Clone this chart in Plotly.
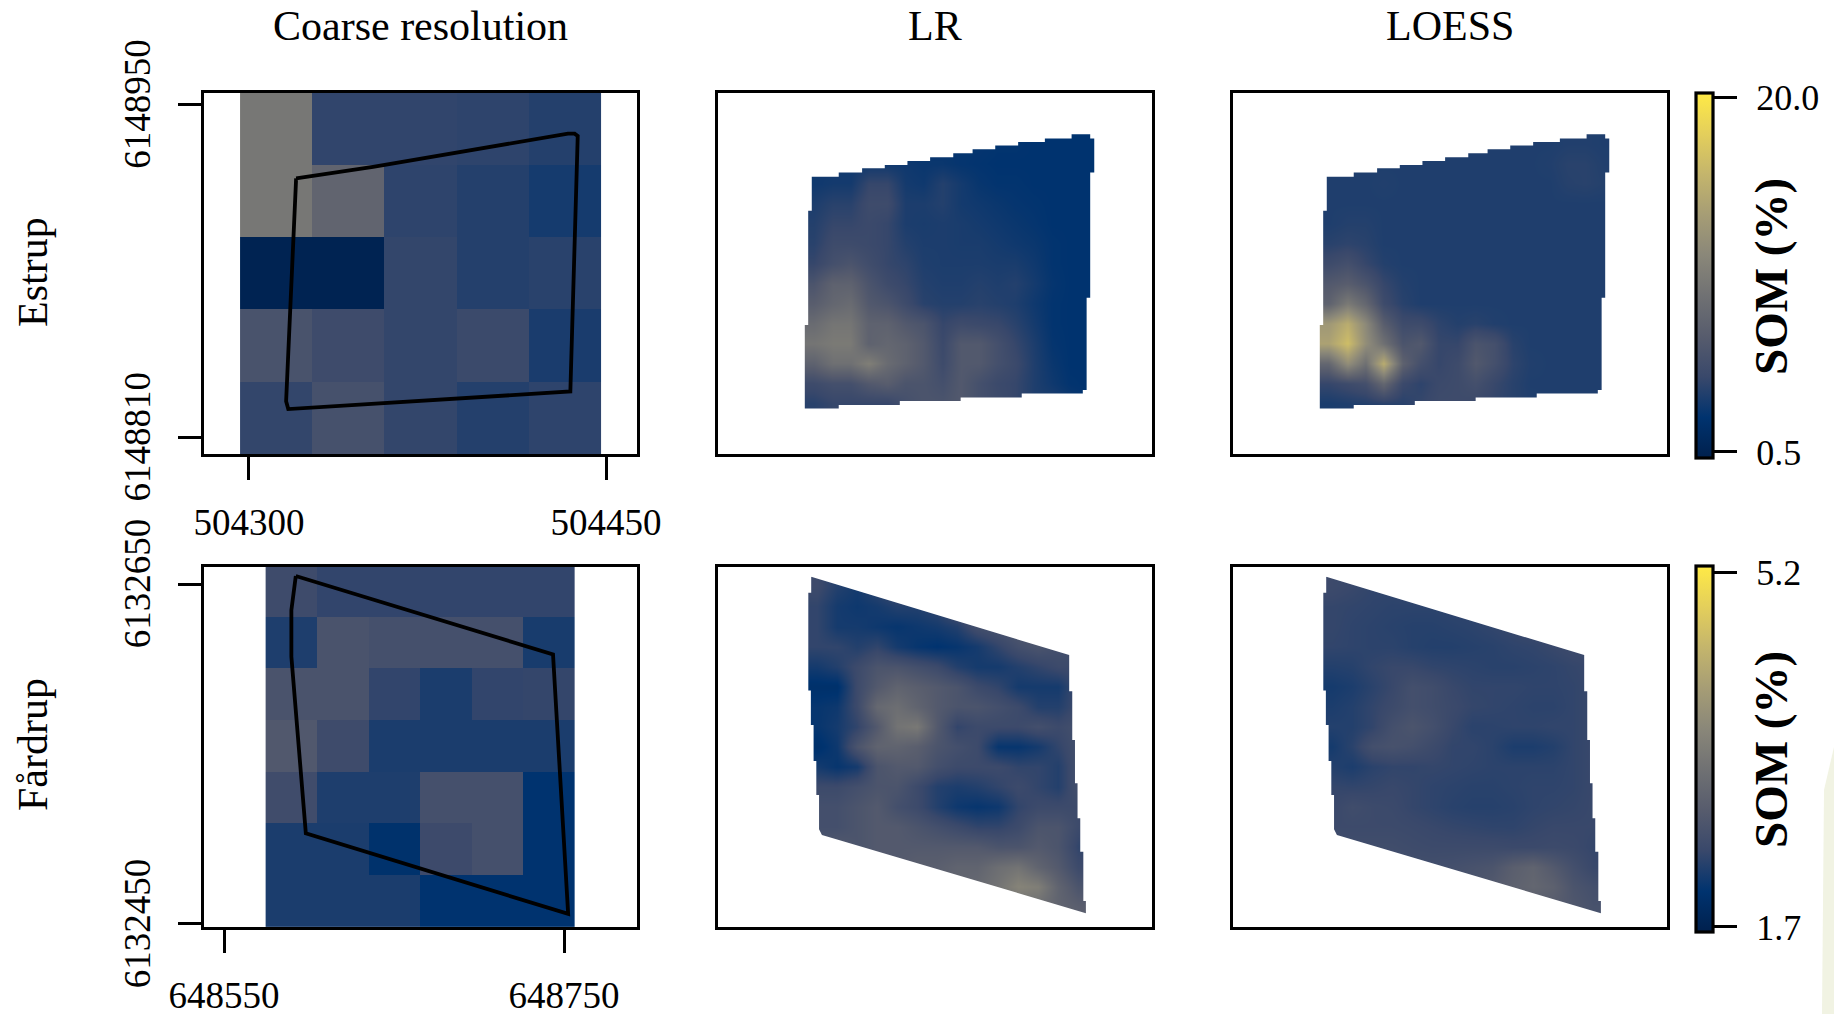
import plotly.graph_objects as go

W, H = 1834, 1014

# ---------- colours and labels
cividis = ["#00204D", "#00336F", "#39486B", "#575C6D", "#707173",
           "#8A8779", "#A69D75", "#C4B56C", "#E4CF5B", "#FFEA46"]
col_titles = ["Coarse resolution", "LR", "LOESS"]
row_titles = ["Estrup", "Fårdrup"]
bar_title = "SOM (%)"
est_limits = [0.17, 20.22]
far_limits = [1.65, 5.26]
est_bar_ticks = [0.5, 20.0]
est_bar_text = ["0.5", "20.0"]
far_bar_ticks = [1.7, 5.2]
far_bar_text = ["1.7", "5.2"]

# ---------- Estrup axes
est_xticks = [504300, 504450]
est_yticks = [6148810, 6148950]
est_xrange = [504281.1, 504463.0]
est_yrange = [6148803.0, 6148954.9]
# ---------- Fardrup axes
far_xticks = [648550, 648750]
far_yticks = [6132450, 6132650]
far_xrange = [648538.2, 648792.9]
far_yrange = [6132448.2, 6132660.0]

# ---------- Estrup coarse grid (top row first)
est_coarse_x = [504311.4, 504341.7, 504372.1, 504402.4, 504432.7]
est_coarse_y = [6148940.0, 6148909.6, 6148879.1, 6148848.6, 6148818.1]
est_coarse = [
    [9.7, 4.3, 4.3, 4.2, 3.8],
    [9.7, 7.7, 4.2, 3.8, 3.2],
    [0.5, 0.5, 4.4, 3.8, 4.0],
    [5.8, 5.0, 4.4, 4.8, 3.4],
    [4.4, 5.6, 4.4, 3.8, 4.2],
]
# ---------- Fardrup coarse grid (top row first)
far_coarse_x = [648589.6, 648619.9, 648650.3, 648680.6, 648711.0, 648741.3]
far_coarse_y = [6132646.0, 6132615.5, 6132585.1, 6132554.7, 6132524.3, 6132493.8, 6132463.4]
far_coarse = [
    [2.52, 2.40, 2.40, 2.40, 2.40, 2.40],
    [2.26, 2.68, 2.61, 2.61, 2.61, 2.22],
    [2.68, 2.68, 2.40, 2.24, 2.40, 2.42],
    [2.77, 2.52, 2.24, 2.24, 2.24, 2.24],
    [2.54, 2.26, 2.26, 2.61, 2.61, 2.05],
    [2.24, 2.24, 2.02, 2.50, 2.61, 2.05],
    [2.24, 2.24, 2.24, 2.05, 2.05, 2.05],
]

# ---------- Field polygons (coarse panels)
est_poly_x = [504319.8, 504315.6, 504316.5, 504435.0, 504438.1, 504436.8, 504434.0, 504352.1, 504319.8]
est_poly_y = [6148919.0, 6148825.2, 6148821.9, 6148829.3, 6148936.8, 6148937.8, 6148937.8, 6148923.8, 6148919.0]
far_poly_x = [648592.2, 648589.6, 648589.6, 648598.1, 648752.4, 648743.5, 648592.2]
far_poly_y = [6132654.7, 6132634.7, 6132607.2, 6132503.3, 6132455.9, 6132608.6, 6132654.7]

# ---------- Fine raster footprints (clockwise, from top-left)
est_edge_x = [504320.4, 504331.7, 504331.7, 504341.5, 504341.5, 504351.0, 504351.0, 504360.5, 504360.5,
              504370.0, 504370.0, 504379.7, 504379.7, 504387.8, 504387.8, 504397.3, 504397.3, 504406.9,
              504406.9, 504418.1, 504418.1, 504429.3, 504429.3, 504437.1, 504437.1, 504438.8, 504438.8,
              504437.1, 504437.1, 504435.6, 504435.6, 504434.0, 504434.0, 504408.4, 504408.4, 504382.8,
              504382.8, 504357.3, 504357.3, 504331.7, 504331.7, 504317.4, 504317.4, 504318.9, 504318.9,
              504320.4, 504320.4]
est_edge_y = [6148919.7, 6148919.7, 6148921.4, 6148921.4, 6148923.2, 6148923.2, 6148924.6, 6148924.6, 6148926.3,
              6148926.3, 6148927.9, 6148927.9, 6148929.5, 6148929.5, 6148931.2, 6148931.2, 6148932.8, 6148932.8,
              6148934.3, 6148934.3, 6148935.8, 6148935.8, 6148937.5, 6148937.5, 6148935.8, 6148935.8, 6148921.5,
              6148921.5, 6148868.7, 6148868.7, 6148829.9, 6148829.9, 6148828.5, 6148828.5, 6148826.8, 6148826.8,
              6148825.3, 6148825.3, 6148823.6, 6148823.6, 6148822.1, 6148822.1, 6148857.3, 6148857.3, 6148905.4,
              6148905.4, 6148919.7]
far_edge_x = [648592.9, 648744.3, 648744.3, 648746.1, 648746.1, 648747.7, 648747.7, 648749.2, 648749.2,
              648750.8, 648750.8, 648752.6, 648752.6, 648754.1, 648754.1, 648599.2, 648597.5, 648597.5,
              648595.9, 648595.9, 648594.3, 648594.3, 648592.7, 648592.7, 648591.2, 648591.2, 648592.9, 648592.9]
far_edge_y = [6132654.3, 6132608.2, 6132586.9, 6132586.9, 6132558.2, 6132558.2, 6132532.7, 6132532.7, 6132512.2,
              6132512.2, 6132492.5, 6132492.5, 6132463.5, 6132463.5, 6132456.3, 6132502.4, 6132505.7, 6132525.9,
              6132525.9, 6132545.9, 6132545.9, 6132567.1, 6132567.1, 6132587.3, 6132587.3, 6132644.9, 6132644.9, 6132654.3]

# ---------- Estrup fine rasters (top row first)
est_fine_x = [504321.2, 504328.9, 504336.6, 504344.3, 504352.0, 504359.7, 504367.4, 504375.1,
              504382.8, 504390.5, 504398.2, 504405.9, 504413.6, 504421.3, 504429.0, 504436.7]
est_fine_y = [6148933.7, 6148925.3, 6148916.9, 6148908.5, 6148900.0, 6148891.6, 6148883.2,
              6148874.8, 6148866.4, 6148857.9, 6148849.5, 6148841.1, 6148832.7, 6148824.3]
est_lr = [
    [2.6, 2.6, 2.6, 2.6, 2.6, 2.6, 2.6, 2.6, 2.6, 2.6, 2.5, 2.5, 2.4, 2.4, 2.4, 2.4],
    [3.0, 3.0, 3.0, 3.0, 3.0, 3.0, 2.8, 2.8, 2.6, 2.5, 2.4, 2.4, 2.4, 2.4, 2.4, 2.4],
    [3.0, 3.2, 3.2, 4.5, 4.5, 3.2, 3.0, 3.8, 3.2, 2.7, 2.5, 2.5, 2.4, 2.4, 2.4, 2.4],
    [3.5, 4.0, 4.0, 5.0, 5.0, 3.5, 3.5, 3.8, 3.2, 3.0, 2.8, 2.6, 2.5, 2.4, 2.4, 2.4],
    [3.8, 4.5, 4.5, 4.8, 4.5, 3.5, 3.4, 3.5, 3.4, 3.2, 3.0, 2.8, 2.6, 2.4, 2.4, 2.4],
    [4.0, 5.0, 5.0, 4.8, 4.5, 3.8, 3.5, 3.5, 3.4, 3.4, 3.2, 3.0, 2.8, 2.5, 2.4, 2.4],
    [4.5, 5.5, 6.0, 5.2, 4.5, 4.2, 3.6, 3.5, 3.5, 3.5, 3.4, 3.4, 3.0, 2.5, 2.4, 2.4],
    [6.0, 7.5, 7.5, 6.0, 5.0, 4.5, 3.8, 3.6, 3.6, 3.8, 3.6, 3.8, 3.2, 2.6, 2.4, 2.4],
    [7.0, 8.0, 8.5, 6.5, 6.0, 5.0, 4.0, 3.8, 3.8, 4.0, 3.8, 3.6, 3.0, 2.5, 2.4, 2.4],
    [8.5, 9.5, 9.5, 7.5, 7.5, 6.5, 6.0, 4.5, 5.0, 4.8, 4.6, 4.0, 3.2, 2.5, 2.4, 2.4],
    [9.5, 10.0, 10.0, 7.5, 8.0, 7.5, 6.5, 4.8, 6.5, 6.5, 5.5, 4.5, 3.5, 2.6, 2.4, 2.4],
    [7.5, 9.0, 9.0, 10.5, 8.5, 7.5, 6.5, 5.0, 6.5, 6.5, 5.5, 4.8, 3.6, 2.8, 2.4, 2.4],
    [5.0, 5.5, 5.5, 6.5, 7.0, 6.0, 6.0, 5.5, 6.5, 5.5, 4.8, 4.5, 3.6, 3.0, 2.5, 2.4],
    [4.0, 4.5, 4.5, 4.5, 4.5, 5.5, 6.0, 6.0, 6.5, 5.5, 5.0, 4.5, 3.6, 3.6, 3.0, 2.5],
]
est_loess = [
    [3.6, 3.6, 3.6, 3.6, 3.6, 3.6, 3.6, 3.6, 3.6, 3.6, 3.6, 3.6, 3.6, 3.7, 3.7, 3.6],
    [3.6, 3.6, 3.6, 3.6, 3.6, 3.6, 3.6, 3.6, 3.6, 3.6, 3.6, 3.6, 3.7, 4.0, 4.0, 3.7],
    [3.6, 3.6, 3.6, 3.7, 3.6, 3.6, 3.6, 3.6, 3.6, 3.6, 3.6, 3.6, 3.6, 3.9, 4.0, 3.8],
    [3.6, 3.6, 3.6, 3.6, 3.6, 3.6, 3.6, 3.6, 3.6, 3.6, 3.6, 3.6, 3.6, 3.6, 3.6, 3.6],
    [3.6, 3.8, 3.8, 3.6, 3.6, 3.6, 3.6, 3.6, 3.6, 3.6, 3.6, 3.6, 3.6, 3.6, 3.6, 3.6],
    [4.0, 4.2, 4.0, 3.6, 3.6, 3.6, 3.6, 3.6, 3.6, 3.6, 3.6, 3.6, 3.6, 3.6, 3.6, 3.6],
    [5.0, 5.5, 4.5, 3.8, 3.6, 3.6, 3.6, 3.6, 3.6, 3.6, 3.6, 3.6, 3.6, 3.6, 3.6, 3.6],
    [6.5, 7.0, 6.0, 4.5, 3.8, 3.6, 3.6, 3.6, 3.6, 3.6, 3.6, 3.6, 3.6, 3.6, 3.6, 3.6],
    [7.5, 10.0, 8.0, 5.0, 4.0, 3.6, 3.6, 3.6, 3.6, 3.6, 3.6, 3.6, 3.6, 3.6, 3.6, 3.6],
    [13.0, 15.0, 11.5, 7.0, 5.0, 5.0, 4.2, 3.8, 4.0, 3.7, 3.6, 3.6, 3.6, 3.6, 3.6, 3.6],
    [14.0, 16.5, 12.0, 9.0, 6.0, 6.5, 4.5, 4.5, 6.0, 5.5, 4.0, 3.6, 3.6, 3.6, 3.6, 3.6],
    [8.0, 12.0, 9.0, 15.0, 7.5, 5.5, 4.5, 5.0, 6.5, 5.5, 4.2, 3.7, 3.6, 3.6, 3.6, 3.6],
    [4.5, 5.0, 5.5, 8.0, 4.8, 4.2, 4.8, 5.0, 5.5, 4.6, 4.0, 3.6, 3.6, 3.6, 3.6, 3.6],
    [3.4, 3.6, 3.8, 4.0, 4.0, 4.5, 5.0, 5.0, 4.8, 4.4, 4.0, 3.7, 3.6, 3.6, 3.6, 3.6],
]

# ---------- Fardrup fine rasters (top row first)
far_fine_x = [648596.3, 648608.1, 648619.8, 648631.6, 648643.4, 648655.1, 648666.9,
              648678.7, 648690.4, 648702.2, 648714.0, 648725.7, 648737.5, 648749.3]
far_fine_y = [6132648.5, 6132636.7, 6132624.9, 6132613.2, 6132601.4, 6132589.6, 6132577.9, 6132566.1, 6132554.3,
              6132542.6, 6132530.8, 6132519.0, 6132507.3, 6132495.5, 6132483.7, 6132472.0, 6132460.2]
far_lr = [
    [2.5, 2.3, 2.2, 2.4, 2.6, 2.6, 2.7, 2.9, 3.0, 3.0, 3.0, 3.0, 3.0, 3.0],
    [2.4, 2.2, 2.15, 2.2, 2.3, 2.3, 2.4, 2.7, 2.8, 3.0, 2.9, 2.9, 2.9, 2.9],
    [2.4, 2.2, 2.2, 2.15, 2.1, 2.15, 2.2, 2.3, 2.6, 2.7, 2.8, 2.9, 2.9, 2.9],
    [2.4, 2.4, 2.3, 2.4, 2.2, 2.1, 2.05, 2.1, 2.2, 2.4, 2.6, 2.7, 2.6, 2.6],
    [2.2, 2.3, 2.5, 2.7, 2.7, 2.6, 2.5, 2.3, 2.2, 2.2, 2.3, 2.4, 2.5, 2.5],
    [2.0, 2.0, 2.5, 2.8, 3.0, 2.9, 2.8, 2.7, 2.5, 2.4, 2.2, 2.2, 2.2, 2.5],
    [2.1, 2.15, 2.5, 3.1, 3.2, 3.0, 2.8, 2.7, 2.7, 2.6, 2.5, 2.3, 2.3, 2.5],
    [2.1, 2.2, 2.4, 2.8, 3.3, 3.4, 2.8, 2.4, 2.5, 2.5, 2.5, 2.6, 2.5, 2.6],
    [2.0, 2.15, 2.7, 3.0, 3.0, 2.9, 2.7, 2.6, 2.5, 2.1, 2.1, 2.2, 2.4, 2.6],
    [2.2, 2.1, 2.2, 2.7, 2.8, 2.8, 2.6, 2.5, 2.5, 2.5, 2.4, 2.4, 2.3, 2.6],
    [2.5, 2.5, 2.6, 2.7, 2.7, 2.5, 2.3, 2.25, 2.3, 2.4, 2.5, 2.4, 2.3, 2.6],
    [2.6, 2.6, 2.7, 2.8, 2.6, 2.5, 2.3, 2.15, 2.1, 2.15, 2.4, 2.5, 2.5, 2.5],
    [2.6, 2.6, 2.7, 2.8, 2.8, 2.7, 2.6, 2.5, 2.4, 2.4, 2.5, 2.7, 2.7, 2.5],
    [2.7, 2.8, 2.7, 2.8, 2.8, 2.8, 2.8, 2.8, 2.8, 2.7, 2.7, 2.8, 2.7, 2.4],
    [2.8, 2.8, 2.8, 2.8, 2.8, 2.9, 2.9, 3.0, 3.0, 3.2, 3.3, 3.0, 2.8, 2.5],
    [2.9, 2.9, 2.9, 2.9, 2.9, 2.9, 2.9, 3.0, 3.1, 3.3, 3.6, 3.5, 3.0, 2.7],
    [3.0, 3.0, 3.0, 3.0, 3.0, 3.0, 3.0, 3.0, 3.0, 3.1, 3.2, 3.2, 3.0, 2.9],
]
far_loess = [
    [2.5, 2.45, 2.4, 2.4, 2.45, 2.45, 2.5, 2.5, 2.55, 2.6, 2.6, 2.6, 2.6, 2.6],
    [2.42, 2.4, 2.38, 2.36, 2.36, 2.36, 2.38, 2.4, 2.5, 2.55, 2.55, 2.55, 2.55, 2.55],
    [2.42, 2.38, 2.36, 2.34, 2.32, 2.32, 2.34, 2.36, 2.4, 2.45, 2.5, 2.5, 2.5, 2.5],
    [2.4, 2.38, 2.36, 2.36, 2.32, 2.3, 2.3, 2.32, 2.34, 2.38, 2.4, 2.45, 2.5, 2.5],
    [2.3, 2.32, 2.4, 2.45, 2.45, 2.4, 2.38, 2.36, 2.34, 2.34, 2.36, 2.38, 2.42, 2.45],
    [2.2, 2.25, 2.35, 2.45, 2.6, 2.55, 2.45, 2.4, 2.4, 2.4, 2.38, 2.38, 2.4, 2.45],
    [2.25, 2.3, 2.4, 2.5, 2.6, 2.55, 2.48, 2.42, 2.4, 2.38, 2.36, 2.36, 2.4, 2.45],
    [2.3, 2.3, 2.4, 2.6, 2.7, 2.6, 2.45, 2.35, 2.36, 2.38, 2.38, 2.4, 2.4, 2.45],
    [2.2, 2.35, 2.6, 2.65, 2.6, 2.5, 2.4, 2.4, 2.35, 2.25, 2.25, 2.3, 2.4, 2.45],
    [2.3, 2.25, 2.35, 2.4, 2.4, 2.42, 2.4, 2.38, 2.36, 2.36, 2.36, 2.36, 2.4, 2.45],
    [2.42, 2.4, 2.42, 2.45, 2.42, 2.38, 2.36, 2.34, 2.34, 2.36, 2.38, 2.38, 2.4, 2.45],
    [2.45, 2.55, 2.5, 2.48, 2.42, 2.38, 2.34, 2.32, 2.32, 2.34, 2.38, 2.4, 2.42, 2.45],
    [2.5, 2.5, 2.5, 2.5, 2.48, 2.45, 2.42, 2.4, 2.38, 2.38, 2.42, 2.45, 2.45, 2.45],
    [2.55, 2.55, 2.55, 2.55, 2.52, 2.5, 2.5, 2.5, 2.5, 2.48, 2.48, 2.5, 2.48, 2.42],
    [2.6, 2.6, 2.6, 2.6, 2.58, 2.58, 2.6, 2.65, 2.7, 2.9, 3.0, 2.8, 2.6, 2.45],
    [2.65, 2.65, 2.65, 2.65, 2.65, 2.65, 2.65, 2.7, 2.8, 2.95, 3.05, 2.95, 2.7, 2.6],
    [2.7, 2.7, 2.7, 2.7, 2.7, 2.7, 2.7, 2.7, 2.75, 2.8, 2.85, 2.85, 2.75, 2.65],
]

# ---------- layout geometry (pixels of the 1834x1014 page)
col_px = [(204, 637), (718, 1152), (1233, 1667)]
row_px = [(93, 454), (567, 927)]
LW = 3.2
SERIF = "Liberation Serif"
TICK_SIZE = 37
TITLE_SIZE = 42

scale = [[i / 9, c] for i, c in enumerate(cividis)]
fig = go.Figure()
layout = {}


def dom_x(a, b):
    return [a / W, b / W]


def dom_y(a, b):
    return [1 - b / H, 1 - a / H]


def add_axes(idx, col, row, xrange_, yrange_, xticks, yticks):
    sx = "" if idx == 1 else str(idx)
    common = dict(showline=True, mirror=True, linecolor="black", linewidth=LW,
                  showgrid=False, zeroline=False, tickfont=dict(family=SERIF, size=TICK_SIZE, color="black"))
    xa = dict(domain=dom_x(*col_px[col]), range=xrange_, anchor="y" + sx, **common)
    ya = dict(domain=dom_y(*row_px[row]), range=yrange_, anchor="x" + sx, **common)
    if col == 0:
        xa.update(tickmode="array", tickvals=xticks, ticktext=[str(v) for v in xticks], ticks="outside",
                  ticklen=23, tickwidth=LW, tickcolor="black", ticklabelstandoff=10)
        ya.update(tickmode="array", tickvals=yticks, ticktext=[str(v) for v in yticks], ticks="outside",
                  ticklen=23, tickwidth=LW, tickcolor="black", tickangle=-90, ticklabelstandoff=13,
                  ticklabelshift=5)
    else:
        xa.update(tickmode="array", tickvals=[], ticks="")
        ya.update(tickmode="array", tickvals=[], ticks="")
    layout["xaxis" + sx] = xa
    layout["yaxis" + sx] = ya
    return "x" + sx, "y" + sx


def mask_trace(xa, ya, xr, yr, ex, ey):
    px_ = [xr[0], xr[1], xr[1], xr[0], xr[0]] + list(ex) + [xr[0]]
    py_ = [yr[0], yr[0], yr[1], yr[1], yr[0]] + list(ey) + [yr[0]]
    return go.Scatter(x=px_, y=py_, xaxis=xa, yaxis=ya, mode="lines", fill="toself", fillcolor="white",
                      line=dict(width=0, color="white"), hoverinfo="skip", showlegend=False)


rows = [
    dict(xr=est_xrange, yr=est_yrange, xt=est_xticks, yt=est_yticks, cx=est_coarse_x, cy=est_coarse_y, cz=est_coarse,
         fx=est_fine_x, fy=est_fine_y, lr=est_lr, lo=est_loess, ex=est_edge_x, ey=est_edge_y,
         px=est_poly_x, py=est_poly_y, ca="coloraxis"),
    dict(xr=far_xrange, yr=far_yrange, xt=far_xticks, yt=far_yticks, cx=far_coarse_x, cy=far_coarse_y, cz=far_coarse,
         fx=far_fine_x, fy=far_fine_y, lr=far_lr, lo=far_loess, ex=far_edge_x, ey=far_edge_y,
         px=far_poly_x, py=far_poly_y, ca="coloraxis2"),
]

idx = 0
for r, d in enumerate(rows):
    for c in range(3):
        idx += 1
        xa, ya = add_axes(idx, c, r, d["xr"], d["yr"], d["xt"], d["yt"])
        if c == 0:
            fig.add_trace(go.Heatmap(x=d["cx"], y=d["cy"], z=d["cz"], xaxis=xa, yaxis=ya,
                                     coloraxis=d["ca"], hoverinfo="skip"))
            fig.add_trace(go.Scatter(x=d["px"], y=d["py"], xaxis=xa, yaxis=ya, mode="lines",
                                     line=dict(color="black", width=3.8), hoverinfo="skip", showlegend=False))
        else:
            fig.add_trace(go.Heatmap(x=d["fx"], y=d["fy"], z=d["lr"] if c == 1 else d["lo"], xaxis=xa, yaxis=ya,
                                     coloraxis=d["ca"], zsmooth="best", hoverinfo="skip"))
            fig.add_trace(mask_trace(xa, ya, d["xr"], d["yr"], d["ex"], d["ey"]))


def bar(top, bottom, ticks, text):
    return dict(x=1696 / W, xanchor="left", xref="paper", y=1 - top / H, yanchor="top", yref="paper",
                lenmode="pixels", len=bottom - top, thicknessmode="pixels", thickness=17, xpad=0, ypad=0,
                outlinecolor="black", outlinewidth=LW, tickmode="array", tickvals=ticks,
                ticktext=["\u00a0\u200a" + t for t in text], ticks="outside", ticklen=23, tickwidth=LW,
                tickcolor="black", tickfont=dict(family=SERIF, size=TICK_SIZE - 1, color="black"))


layout["coloraxis"] = dict(colorscale=scale, cmin=est_limits[0], cmax=est_limits[1],
                           colorbar=bar(93, 458, est_bar_ticks, est_bar_text))
layout["coloraxis2"] = dict(colorscale=scale, cmin=far_limits[0], cmax=far_limits[1],
                            colorbar=bar(566, 932, far_bar_ticks, far_bar_text))

anns = []
for (a, b), t in zip(col_px, col_titles):
    anns.append(dict(text=t, x=(a + b) / 2 / W, y=1 - 26 / H, xref="paper", yref="paper", showarrow=False,
                     xanchor="center", yanchor="middle", font=dict(family=SERIF, size=TITLE_SIZE, color="black")))
for cy, t in zip((272, 745), row_titles):
    anns.append(dict(text=t, x=33 / W, y=1 - cy / H, xref="paper", yref="paper", showarrow=False, textangle=-90,
                     xanchor="center", yanchor="middle", font=dict(family=SERIF, size=TITLE_SIZE, color="black")))
for cy in (277, 750):
    anns.append(dict(text="<b>" + bar_title + "</b>", x=1771 / W, y=1 - cy / H, xref="paper", yref="paper",
                     showarrow=False, textangle=-90, xanchor="center", yanchor="middle",
                     font=dict(family=SERIF, size=47, color="black")))

pale_patch = dict(type="path", xref="paper", yref="paper", line=dict(width=0), fillcolor="#f1f3e3", layer="below",
                  path=f"M {1834/W} {1-747/H} L {1824/W} {1-790/H} L {1822/W} 0 L 1 0 Z")

fig.update_layout(width=W, height=H, margin=dict(l=0, r=0, t=0, b=0, autoexpand=False), paper_bgcolor="white",
                  plot_bgcolor="white", showlegend=False, annotations=anns, shapes=[pale_patch], **layout)

fig.write_html("out.html", config={"displayModeBar": False}, post_script="document.body.style.margin='0';")
